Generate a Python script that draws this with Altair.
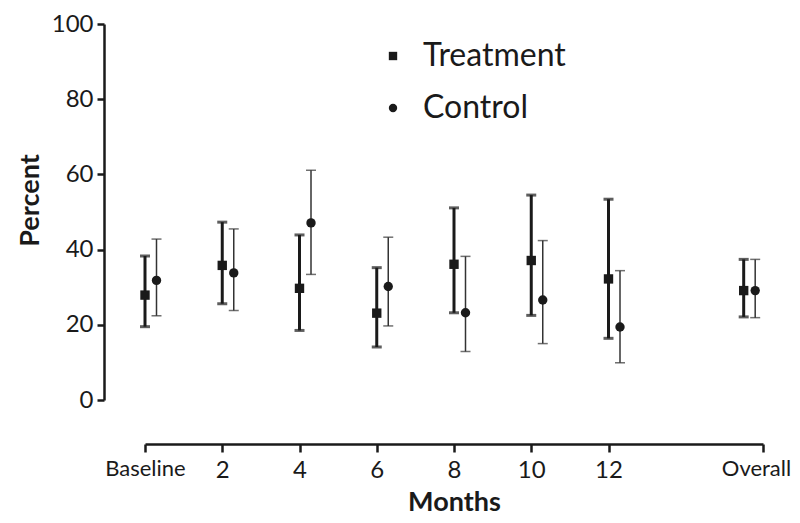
import altair as alt
import pandas as pd

groups = ["Treatment", "Control"]
tick_labels = ["Baseline", "2", "4", "6", "8", "10", "12", "Overall"]
tick_values = [0, 2, 4, 6, 8, 10, 12, 16]
xpos = [0, 2, 4, 6, 8, 10, 12, 15.5]

treat_mean = [27.9, 35.8, 29.7, 23.1, 36.1, 37.1, 32.2, 29.1]
treat_low = [19.5, 25.6, 18.5, 14.1, 23.2, 22.5, 16.4, 22.1]
treat_high = [38.3, 47.3, 43.9, 35.2, 51.1, 54.5, 53.4, 37.4]

ctrl_mean = [31.8, 33.8, 47.1, 30.2, 23.2, 26.6, 19.4, 29.1]
ctrl_low = [22.4, 23.8, 33.4, 19.7, 12.9, 15.0, 9.9, 21.9]
ctrl_high = [42.8, 45.5, 61.1, 43.3, 38.2, 42.4, 34.4, 37.4]

treat = pd.DataFrame({"group": "Treatment", "x": xpos, "mean": treat_mean,
                      "low": treat_low, "high": treat_high})
ctrl = pd.DataFrame({"group": "Control", "x": xpos, "mean": ctrl_mean,
                     "low": ctrl_low, "high": ctrl_high})

label_map = ", ".join(f"'{v}': '{l}'" for v, l in zip(tick_values, tick_labels))
label_expr = "{" + label_map + "}[datum.value]"

FONT = "Lato"
INK = "#1a1a1a"
CTRL_INK = "#333333"
CTRL_OFF = 11.5

xscale = alt.Scale(domain=[0, 16], range=[41, 659], nice=False, zero=False)
yscale = alt.Scale(domain=[0, 100], nice=False)

xaxis = alt.Axis(
    values=tick_values, labelExpr=label_expr, offset=44,
    labelFontSize={"condition": {"test": "datum.value == 0 || datum.value == 16", "value": 22}, "value": 24},
    labelOffset={"condition": {"test": "datum.value == 16", "value": -7}, "value": 0},
    title="Months", titleY=66,
)
yaxis = alt.Axis(
    values=[0, 20, 40, 60, 80, 100], title="Percent",
    titleAngle=-90, titleAlign="center", titleX=-66, titleY=176,
)

X = alt.X("x:Q", scale=xscale, axis=xaxis)
Y_LOW = alt.Y("low:Q", scale=yscale, axis=yaxis)
Y_HIGH = alt.Y("high:Q", scale=yscale, axis=yaxis)
Y_MEAN = alt.Y("mean:Q", scale=yscale, axis=yaxis)

shape_enc = alt.Shape(
    "group:N", scale=alt.Scale(domain=groups, range=["square", "circle"]),
    legend=alt.Legend(orient="none", legendX=273, legendY=16, title=None,
                      labelFont=FONT, labelFontSize=32, labelColor=INK,
                      labelOffset=14, symbolSize=70, symbolFillColor=INK,
                      symbolStrokeColor=INK, symbolStrokeWidth=0,
                      rowPadding=20, padding=0))

base_t = alt.Chart(treat)
base_c = alt.Chart(ctrl)

t_stem = base_t.mark_rule(strokeWidth=3, color=INK).encode(x=X, y=Y_LOW, y2="high:Q")
t_cap_lo = base_t.mark_tick(orient="horizontal", size=10, thickness=3, color=INK).encode(x=X, y=Y_LOW)
t_cap_hi = base_t.mark_tick(orient="horizontal", size=10, thickness=3, color=INK).encode(x=X, y=Y_HIGH)
t_pts = base_t.mark_point(filled=True, size=88, opacity=1, color=INK).encode(
    x=X, y=Y_MEAN, shape=shape_enc)

c_stem = base_c.mark_rule(strokeWidth=1.5, color=CTRL_INK, xOffset=CTRL_OFF).encode(
    x=X, y=Y_LOW, y2="high:Q")
c_cap_lo = base_c.mark_tick(orient="horizontal", size=10, thickness=1.5, color=CTRL_INK,
                            xOffset=CTRL_OFF).encode(x=X, y=Y_LOW)
c_cap_hi = base_c.mark_tick(orient="horizontal", size=10, thickness=1.5, color=CTRL_INK,
                            xOffset=CTRL_OFF).encode(x=X, y=Y_HIGH)
c_pts = base_c.mark_point(filled=True, size=88, opacity=1, color=INK, xOffset=CTRL_OFF).encode(
    x=X, y=Y_MEAN, shape=shape_enc)

chart = alt.layer(t_stem, t_cap_lo, t_cap_hi, c_stem, c_cap_lo, c_cap_hi, t_pts, c_pts).properties(
    width=688, height=376,
    padding={"left": 96, "top": 16, "right": 0, "bottom": 115},
    autosize=alt.AutoSizeParams(type="none"),
).configure(font=FONT).configure_view(stroke=None).configure_axis(
    grid=False, domainWidth=2.5, tickWidth=2.5, domainColor=INK, tickColor=INK,
    labelColor=INK, labelFont=FONT, labelOverlap=False, labelBound=False, labelFlush=False,
    titleFont=FONT, titleFontSize=27, titleFontWeight="bold", titleColor=INK,
    titleBaseline="alphabetic",
).configure_axisX(
    tickSize=8, labelPadding=6,
).configure_axisY(
    tickSize=7, labelPadding=4, labelFontSize=24,
)

chart.save("out.html", embed_options={"renderer": "svg", "actions": False})
